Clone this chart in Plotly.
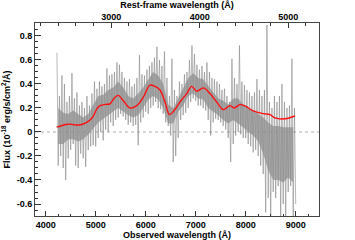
import plotly.graph_objects as go

# ---------------- data ----------------
Z1 = 1.77  # (1+z) observed / rest-frame

# spectrum: bin start wavelengths (50 A bins), spike maxima and minima
spec_w = list(range(4225, 9000, 50))
spec_hi = [0.66, 0.30, 0.47, 0.40, 0.25, 0.30, 0.49, 0.28, 0.33, 0.22,
           0.25, 0.20, 0.30, 0.22, 0.32, 0.42, 0.36, 0.42, 0.38, 0.40,
           0.53, 0.47, 0.48, 0.50, 0.58, 0.56, 0.50, 0.45, 0.42, 0.44,
           0.38, 0.40, 0.45, 0.64, 0.48, 0.47, 0.52, 0.55, 0.58, 0.62,
           0.71, 0.60, 0.55, 0.67, 0.45, 0.30, 0.61, 0.35, 0.30, 0.42,
           0.40, 0.48, 0.50, 0.60, 0.72, 0.65, 0.56, 0.52, 0.55, 0.50,
           0.58, 0.50, 0.45, 0.44, 0.42, 0.40, 0.35, 0.36, 0.30, 0.25,
           0.61, 0.45, 0.40, 0.72, 0.42, 0.39, 0.35, 0.33, 0.30, 0.33,
           0.44, 0.35, 0.30, 0.35, 0.89, 0.25, 0.20, 0.30, 0.25, 0.30,
           0.40, 0.25, 0.20, 0.22, 0.61, 0.20]
spec_lo = [-0.28, -0.20, -0.30, -0.40, -0.22, -0.15, -0.10, -0.28, -0.30, -0.18,
           -0.22, -0.29, -0.15, -0.12, -0.11, -0.12, -0.05, 0.00, -0.07, 0.02,
           0.00, 0.08, 0.05, 0.10, 0.12, 0.15, 0.13, 0.10, 0.06, 0.08,
           0.05, 0.06, -0.11, 0.08, 0.12, 0.17, 0.15, 0.20, 0.22, 0.25,
           0.20, 0.19, 0.15, 0.08, 0.05, -0.03, -0.25, -0.20, -0.05, 0.10,
           0.14, 0.16, 0.20, 0.25, 0.28, 0.26, 0.22, 0.22, 0.20, 0.18,
           0.10, -0.03, 0.08, 0.11, 0.10, 0.08, 0.05, 0.02, -0.05, -0.25,
           -0.10, -0.03, 0.00, -0.02, -0.05, -0.05, -0.10, -0.12, -0.17, -0.15,
           -0.20, -0.28, -0.35, -0.67, -0.55, -0.70, -0.50, -0.55, -0.45, -0.70,
           -0.60, -0.70, -0.50, -0.45, -0.70, -0.60]

# dense core of the spectrum (100 A steps)
core_w = [4250, 4350, 4450, 4550, 4650, 4750, 4850, 4950, 5050, 5150,
          5250, 5350, 5450, 5550, 5650, 5750, 5850, 5950, 6050, 6150,
          6250, 6350, 6450, 6550, 6650, 6750, 6850, 6950, 7050, 7150,
          7250, 7350, 7450, 7550, 7650, 7750, 7850, 7950, 8050, 8150,
          8250, 8350, 8450, 8550, 8650, 8750, 8850, 8950]
core_hi = [0.20, 0.16, 0.15, 0.18, 0.15, 0.12, 0.15, 0.22, 0.30, 0.31,
           0.35, 0.37, 0.42, 0.37, 0.30, 0.28, 0.32, 0.37, 0.43, 0.50,
           0.47, 0.40, 0.23, 0.20, 0.28, 0.36, 0.45, 0.49, 0.45, 0.44,
           0.38, 0.33, 0.28, 0.26, 0.23, 0.28, 0.28, 0.23, 0.20, 0.18,
           0.15, 0.12, 0.08, 0.05, 0.05, 0.04, 0.04, 0.04]
core_lo = [-0.10, -0.10, -0.06, -0.06, -0.08, -0.06, -0.02, 0.03, 0.08, 0.11,
           0.14, 0.17, 0.20, 0.17, 0.14, 0.12, 0.14, 0.20, 0.27, 0.30,
           0.27, 0.20, 0.07, 0.07, 0.17, 0.22, 0.30, 0.32, 0.28, 0.27,
           0.20, 0.17, 0.14, 0.10, 0.07, 0.10, 0.07, 0.04, 0.00, -0.03,
           -0.08, -0.18, -0.32, -0.40, -0.40, -0.42, -0.38, -0.42]

# smoothed model (red)
model_w = [4220, 4300, 4400, 4500, 4600, 4700, 4800, 4886, 4950, 5020,
           5086, 5200, 5286, 5386, 5453, 5553, 5686, 5820, 5953, 6086,
           6186, 6286, 6386, 6473, 6553, 6686, 6820, 6920, 7020, 7153,
           7286, 7420, 7553, 7686, 7766, 7886, 7986, 8153, 8353, 8486,
           8586, 8786, 8986]
model_f = [0.04, 0.05, 0.062, 0.065, 0.058, 0.06, 0.075, 0.10, 0.13, 0.19,
           0.22, 0.23, 0.235, 0.29, 0.305, 0.26, 0.20, 0.22, 0.29, 0.39,
           0.38, 0.35, 0.25, 0.145, 0.17, 0.25, 0.32, 0.38, 0.34, 0.367,
           0.32, 0.25, 0.186, 0.22, 0.20, 0.228, 0.217, 0.175, 0.153, 0.144,
           0.117, 0.11, 0.133]

obs_ticks = [4000, 5000, 6000, 7000, 8000, 9000]
rest_ticks = [3000, 4000, 5000]
y_ticks = [-0.6, -0.4, -0.2, 0, 0.2, 0.4, 0.6, 0.8]
y_ticklabels = ["-0.6", "-0.4", "-0.2", "0", "0.2", "0.4", "0.6", "0.8"]

X_RANGE = [3786, 9466]
Y_RANGE = [-0.7, 0.908]

# ---------------- figure ----------------
n = min(len(spec_w), len(spec_hi), len(spec_lo))
zx, zy = [], []
for i in range(n):
    zx += [spec_w[i], spec_w[i] + 25]
    zy += [spec_hi[i], spec_lo[i]]

fig = go.Figure()

# core band
fig.add_trace(go.Scatter(
    x=core_w + core_w[::-1], y=core_hi + core_lo[::-1],
    fill="toself", fillcolor="rgba(150,150,150,0.75)",
    line=dict(width=0), mode="lines", hoverinfo="skip", showlegend=False))

# spiky spectrum
fig.add_trace(go.Scatter(
    x=zx, y=zy, mode="lines",
    line=dict(color="rgba(135,135,135,0.85)", width=0.7),
    showlegend=False))

# model
fig.add_trace(go.Scatter(
    x=model_w, y=model_f, mode="lines", line_shape="spline",
    line=dict(color="#ff1010", width=1.4), showlegend=False))

# dummy trace for top axis
fig.add_trace(go.Scatter(x=[X_RANGE[0] / Z1], y=[None], xaxis="x2",
                         mode="markers", showlegend=False, hoverinfo="skip"))

fig.add_shape(type="line", xref="paper", x0=0, x1=1, yref="y", y0=0, y1=0,
              line=dict(color="#b0b0b0", width=1, dash="dot"), layer="below")

tickfont = dict(family="Liberation Sans, Arial, sans-serif", size=9, color="black")
titlefont = dict(family="Liberation Sans, Arial, sans-serif", size=9, color="black")

fig.update_layout(
    width=355, height=240,
    margin=dict(l=35, r=36, t=23, b=24),
    paper_bgcolor="white", plot_bgcolor="white",
    xaxis=dict(
        range=X_RANGE, tickvals=obs_ticks, automargin=False,
        ticktext=["<b>%d</b>" % t for t in obs_ticks],
        ticks="inside", ticklen=5, tickwidth=1, tickcolor="#333",
        minor=dict(dtick=250, ticks="inside", ticklen=2.5, tickcolor="#333", showgrid=False),
        showgrid=False, zeroline=False,
        showline=True, linecolor="#444", linewidth=1, mirror=True,
        tickfont=tickfont,
        title=dict(text="<b>Observed wavelength (Å)</b>", font=titlefont),
    ),
    xaxis2=dict(
        overlaying="x", side="top", automargin=False,
        range=[X_RANGE[0] / Z1, X_RANGE[1] / Z1], tickvals=rest_ticks,
        ticktext=["<b>%d</b>" % t for t in rest_ticks],
        ticks="inside", ticklen=5, tickwidth=1, tickcolor="#333",
        minor=dict(dtick=200, ticks="inside", ticklen=2.5, tickcolor="#333", showgrid=False),
        showgrid=False, zeroline=False, showline=False,
        tickfont=tickfont,
        title=dict(text="<b>Rest-frame wavelength (Å)</b>", font=titlefont),
    ),
    yaxis=dict(
        range=Y_RANGE, tickvals=y_ticks, automargin=False,
        ticktext=["<b>%s</b>" % t for t in y_ticklabels],
        ticks="inside", ticklen=6, tickwidth=1, tickcolor="#333",
        minor=dict(dtick=0.05, ticks="inside", ticklen=3, tickcolor="#333", showgrid=False),
        showgrid=False, zeroline=False,
        showline=True, linecolor="#444", linewidth=1, mirror=True,
        tickfont=tickfont,
        title=dict(text="<b>Flux (10<sup>-18</sup> erg/s/cm<sup>2</sup>/Å)</b>",
                   font=titlefont),
    ),
)

fig.write_html("out.html", config={"displayModeBar": False},
               post_script="document.body.style.margin='0';document.body.style.overflow='hidden';")
